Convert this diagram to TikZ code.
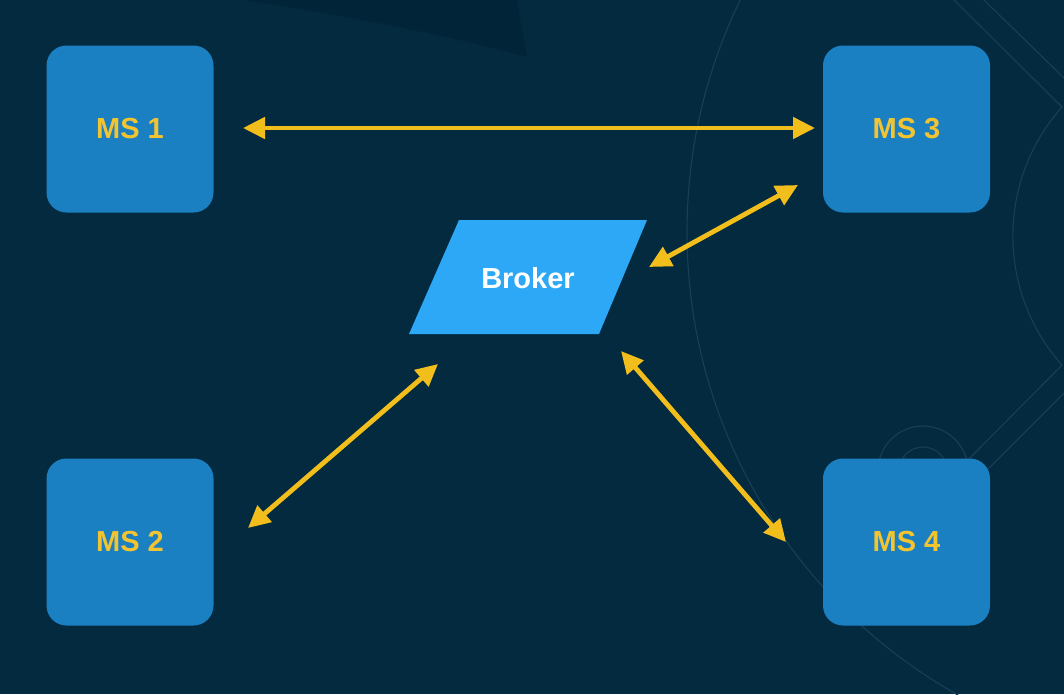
\documentclass[tikz,border=0pt]{standalone}
\usepackage{fontspec}
\setmainfont{Liberation Sans}
\usetikzlibrary{arrows.meta}
\definecolor{bg}{RGB}{4,42,64}
\definecolor{bgdark}{RGB}{2,36,56}
\definecolor{deco}{RGB}{22,64,88}
\definecolor{msblue}{RGB}{27,128,193}
\definecolor{brokerblue}{RGB}{44,168,247}
\definecolor{labelyellow}{RGB}{244,196,48}
\definecolor{arrowyellow}{RGB}{242,190,27}
\begin{document}
\begin{tikzpicture}[x=1pt,y=1pt,
  msbox/.style={fill=msblue, rounded corners=20pt, minimum width=167pt, minimum height=167pt,
    inner sep=0pt, text=labelyellow, font=\fontsize{29}{34}\selectfont\bfseries},
  brokertext/.style={text=white, inner sep=0pt, font=\fontsize{29}{34}\selectfont\bfseries},
  link/.style={draw=arrowyellow, line width=4.8pt,
    {Triangle[length=22pt,width=21pt]}-{Triangle[length=22pt,width=21pt]}},
  decoline/.style={draw=deco, line width=1.1pt}]
\useasboundingbox (0,0) rectangle (1064,-694);
\clip (0,0) rectangle (1064,-694);
% background
\fill[bg] (0,0) rectangle (1064,-694);
\fill[bgdark] (243,0) .. controls (360,-18) and (450,-36) .. (527,-57) -- (517,0) -- cycle;
% decorations
\draw[decoline] (1218,-232) circle[radius=531];
\draw[decoline] (954,0) -- (1062,-107) arc[start angle=138.3, end angle=221.7, radius=194] -- (940,-488);
\draw[decoline] (984,0) -- (1064,-78);
\draw[decoline] (1064,-393) -- (960,-497);
\draw[decoline] (923,-471) circle[radius=45];
\draw[decoline] (923,-471) circle[radius=24];
% nodes
\node[msbox] (ms1) at (130,-129) {MS 1};
\node[msbox] (ms2) at (130,-542) {MS 2};
\node[msbox] (ms3) at (906.5,-129) {MS 3};
\node[msbox] (ms4) at (906.5,-542) {MS 4};
\fill[brokerblue] (459,-220) -- (647,-220) -- (599,-334) -- (409,-334) -- cycle;
\node[brokertext] (broker) at (528,-278) {Broker};
% connector ends
\coordinate (p1) at (243,-128);
\coordinate (p3) at (815,-128);
\coordinate (q3) at (798,-185);
\coordinate (qb) at (649,-267);
\coordinate (rb) at (438,-364);
\coordinate (r2) at (248,-528);
\coordinate (sb) at (621,-351);
\coordinate (s4) at (786,-542);
\draw[link] (p1) -- (p3);
\draw[link] (qb) -- (q3);
\draw[link] (r2) -- (rb);
\draw[link] (sb) -- (s4);
\end{tikzpicture}
\end{document}
